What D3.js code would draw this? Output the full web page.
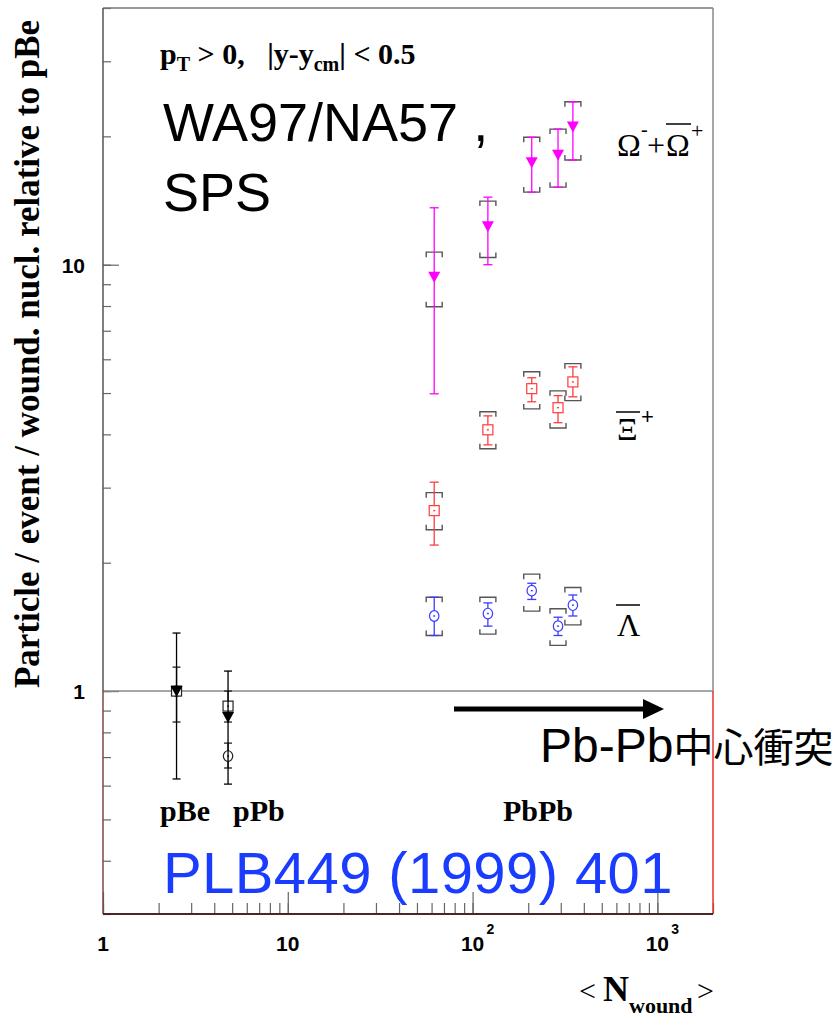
<!DOCTYPE html>
<html><head><meta charset="utf-8">
<script src="https://cdn.jsdelivr.net/npm/d3@7"></script>
<style>body{margin:0;background:#fff} text{white-space:pre}</style>
</head><body><svg id="c" width="839" height="1018"></svg>
<script>
// ---------------- data ----------------
const nWoundPbPb = [62, 121, 209, 290, 349];
const nWoundPA   = [2.5, 4.75];              // pBe, pPb

const omegaVal    = [9.37, 12.3, 17.4, 18.1, 21.1];
const omegaStatHi = [13.6, 14.4, 19.9, 20.8, 24.1];
const omegaStatLo = [4.98, 10.0, 14.8, 15.2, 17.6];
const omegaSysHi  = [10.7, 14.1, 19.9, 20.8, 24.1];
const omegaSysLo  = [7.97, 10.4, 14.8, 15.2, 17.6];

const xiVal    = [2.65, 4.10, 5.12, 4.62, 5.31];
const xiStatHi = [3.09, 4.42, 5.43, 4.93, 5.76];
const xiStatLo = [2.20, 3.78, 4.77, 4.26, 4.90];
const xiSysHi  = [2.92, 4.52, 5.61, 5.06, 5.86];
const xiSysLo  = [2.39, 3.70, 4.59, 4.14, 4.80];

const lamVal    = [1.50, 1.52, 1.72, 1.42, 1.59];
const lamStatHi = [1.66, 1.61, 1.79, 1.49, 1.68];
const lamStatLo = [1.35, 1.42, 1.64, 1.35, 1.50];
const lamSysHi  = [1.66, 1.66, 1.88, 1.56, 1.75];
const lamSysLo  = [1.35, 1.36, 1.54, 1.28, 1.43];

// p-A reference points (pBe, pPb)
const paOmegaVal = [1.0, 0.869], paOmegaHi = [1.368, 1.114], paOmegaLo = [0.622, 0.605];
const paXiVal    = [1.0, 0.922], paXiHi    = [1.138, 1.0],   paXiLo    = [0.846, 0.846];
const paLamVal   = [1.0, 0.704], paLamHi   = [1.02, 0.755],  paLamLo   = [0.98, 0.66];

const xDomain = [1, 2000];
const yDomain = [0.3, 40];
const xMajorTicks = [1, 10, 100, 1000];
const xMajorBase  = ["1", "10", "10", "10"];
const xMajorExp   = ["", "", "2", "3"];
const yMajorTicks = [1, 10];
const yMajorLabels = ["1", "10"];
const refLine = 1;

// ---------------- layout ----------------
const L = 103, R = 713, T = 8, B = 914;
const svg = d3.select("#c");
const x = d3.scaleLog().domain(xDomain).range([L, R]);
const y = d3.scaleLog().domain(yDomain).range([B, T]);

// ticks
const gxMin = svg.append("g").attr("transform", `translate(0,${B})`)
  .call(d3.axisBottom(x).tickValues(x.ticks()).tickSize(-11).tickFormat(""));
const gxMaj = svg.append("g").attr("transform", `translate(0,${B})`)
  .call(d3.axisBottom(x).tickValues(xMajorTicks).tickSize(-22).tickFormat(""));
const gyMin = svg.append("g").attr("transform", `translate(${L},0)`)
  .call(d3.axisLeft(y).tickValues(y.ticks()).tickSize(-8).tickFormat(""));
const gyMaj = svg.append("g").attr("transform", `translate(${L},0)`)
  .call(d3.axisLeft(y).tickValues(yMajorTicks).tickSize(-16).tickFormat(""));
[gxMin, gxMaj, gyMin, gyMaj].forEach(g => {
  g.select(".domain").remove();
  g.selectAll("line").attr("stroke", "#666").attr("stroke-width", 1.2);
});

// reference line at 1
svg.append("line").attr("x1", L).attr("x2", R).attr("y1", y(refLine)).attr("y2", y(refLine))
  .attr("stroke", "#8a8a8a").attr("stroke-width", 1.5);

// frame
const frame = svg.append("g").attr("fill", "none");
frame.append("line").attr("x1", L).attr("x2", R).attr("y1", T).attr("y2", T).attr("stroke", "#777").attr("stroke-width", 1.5);
frame.append("line").attr("x1", L).attr("x2", L).attr("y1", T).attr("y2", y(refLine)).attr("stroke", "#555").attr("stroke-width", 1.5);
frame.append("line").attr("x1", L).attr("x2", L).attr("y1", y(refLine)).attr("y2", B).attr("stroke", "#7a4848").attr("stroke-width", 1.5);
frame.append("line").attr("x1", R).attr("x2", R).attr("y1", T).attr("y2", y(refLine)).attr("stroke", "#888").attr("stroke-width", 1.5);
frame.append("line").attr("x1", R).attr("x2", R).attr("y1", y(refLine)).attr("y2", B).attr("stroke", "#e83030").attr("stroke-width", 1.5);
frame.append("line").attr("x1", L).attr("x2", R).attr("y1", B).attr("y2", B).attr("stroke", "#4a2626").attr("stroke-width", 2);

// tick labels
const xl = svg.append("g").attr("font-family", "Liberation Sans, Arial, sans-serif").attr("fill", "#000").attr("font-weight", "bold");
xMajorTicks.forEach((v, i) => {
  xl.append("text").attr("x", x(v)).attr("y", 951).attr("text-anchor", "middle")
    .attr("font-size", 21).text(xMajorBase[i]);
  if (xMajorExp[i]) xl.append("text").attr("x", x(v) + 14).attr("y", 934)
    .attr("font-size", 14).text(xMajorExp[i]);
});
yMajorTicks.forEach((v, i) => {
  xl.append("text").attr("x", 85).attr("y", y(v) + 8).attr("text-anchor", "end")
    .attr("font-size", 21).text(yMajorLabels[i]);
});

// ---------------- marks ----------------
const plot = svg.append("g");
function bracket(xp, yp, dir) { // dir=+1 top bracket (legs down), -1 bottom (legs up)
  return `M${xp-8},${yp+5*dir} V${yp} H${xp+8} V${yp+5*dir}`;
}
function drawSeries(xs, val, sHi, sLo, yHi, yLo, color, marker, capW) {
  xs.forEach((xv, i) => {
    const px = x(xv);
    if (yHi) {
      plot.append("path").attr("d", bracket(px, y(yHi[i]), 1)).attr("fill", "none").attr("stroke", "#555").attr("stroke-width", 1.4);
      plot.append("path").attr("d", bracket(px, y(yLo[i]), -1)).attr("fill", "none").attr("stroke", "#555").attr("stroke-width", 1.4);
    }
    const st = plot.append("g").attr("stroke", color).attr("stroke-width", 1.3);
    st.append("line").attr("x1", px).attr("x2", px).attr("y1", y(sHi[i])).attr("y2", y(sLo[i]));
    st.append("line").attr("x1", px - capW).attr("x2", px + capW).attr("y1", y(sHi[i])).attr("y2", y(sHi[i]));
    st.append("line").attr("x1", px - capW).attr("x2", px + capW).attr("y1", y(sLo[i])).attr("y2", y(sLo[i]));
    const py = y(val[i]);
    if (marker === "tri") {
      plot.append("path").attr("d", `M${px-6},${py-5} L${px+6},${py-5} L${px},${py+6} Z`).attr("fill", color);
    } else if (marker === "sq") {
      plot.append("rect").attr("x", px - 5).attr("y", py - 5).attr("width", 10).attr("height", 10)
        .attr("fill", "#fff").attr("stroke", color).attr("stroke-width", 1.2);
      plot.append("rect").attr("x", px - 1).attr("y", py - 0.7).attr("width", 2).attr("height", 1.4).attr("fill", color);
    } else {
      plot.append("ellipse").attr("cx", px).attr("cy", py).attr("rx", 4.7).attr("ry", 5.3)
        .attr("fill", "#fff").attr("stroke", color).attr("stroke-width", 1.2);
      plot.append("rect").attr("x", px - 1).attr("y", py - 0.7).attr("width", 2).attr("height", 1.4).attr("fill", color);
    }
  });
}
const cMag = "#ff00ff", cRed = "#ff3c3c", cBlue = "#3c3cff", cBlk = "#222";
drawSeries(nWoundPbPb, omegaVal, omegaStatHi, omegaStatLo, omegaSysHi, omegaSysLo, cMag, "tri", 4.5);
drawSeries(nWoundPbPb, xiVal, xiStatHi, xiStatLo, xiSysHi, xiSysLo, cRed, "sq", 4.5);
drawSeries(nWoundPbPb, lamVal, lamStatHi, lamStatLo, lamSysHi, lamSysLo, cBlue, "circ", 4.5);
drawSeries(nWoundPA, paLamVal, paLamHi, paLamLo, null, null, cBlk, "circ", 4);
drawSeries(nWoundPA, paXiVal, paXiHi, paXiLo, null, null, cBlk, "sq", 4);
drawSeries(nWoundPA, paOmegaVal, paOmegaHi, paOmegaLo, null, null, "#000", "tri", 4);

// ---------------- texts ----------------
const serif = "Liberation Serif, Times New Roman, serif";
const sans = "Liberation Sans, Arial, Helvetica, sans-serif";

// y title
svg.append("text").attr("transform", "translate(39,354) rotate(-90)").attr("text-anchor", "middle")
  .attr("font-family", serif).attr("font-weight", "bold").attr("font-size", 35)
  .text("Particle / event / wound. nucl. relative to pBe");

// x title
const xt = svg.append("g").attr("font-family", serif).attr("font-weight", "bold");
xt.append("text").attr("x", 579).attr("y", 1001).attr("font-size", 30).attr("font-weight", "normal").text("<");
xt.append("text").attr("x", 603).attr("y", 1001).attr("font-size", 36).text("N");
xt.append("text").attr("x", 629).attr("y", 1013).attr("font-size", 22).text("wound");
xt.append("text").attr("x", 697).attr("y", 1001).attr("font-size", 30).attr("font-weight", "normal").text(">");

// kinematic cuts
const kc = svg.append("text").attr("x", 160).attr("y", 64).attr("font-family", serif)
  .attr("font-weight", "bold").attr("font-size", 30);
kc.append("tspan").text("p");
kc.append("tspan").attr("font-size", 20).attr("dy", 7).text("T");
kc.append("tspan").attr("dy", -7).text(" > 0,   |y-y");
kc.append("tspan").attr("font-size", 20).attr("dy", 7).text("cm");
kc.append("tspan").attr("dy", -7).text("| < 0.5");

// experiment
svg.append("text").attr("x", 163).attr("y", 141).attr("font-family", sans).attr("font-size", 54).text("WA97/NA57 ,");
svg.append("text").attr("x", 163).attr("y", 211).attr("font-family", sans).attr("font-size", 54).text("SPS");

// species labels
const sl = svg.append("g").attr("font-family", serif).attr("fill", "#000");
sl.append("text").attr("x", 617).attr("y", 156).attr("font-size", 32).text("Ω");
sl.append("text").attr("x", 641).attr("y", 136).attr("font-size", 20).text("-");
sl.append("text").attr("x", 647).attr("y", 156).attr("font-size", 32).text("+");
sl.append("text").attr("x", 666).attr("y", 156).attr("font-size", 32).text("Ω");
sl.append("line").attr("x1", 666).attr("x2", 691).attr("y1", 124).attr("y2", 124).attr("stroke", "#000").attr("stroke-width", 1.5);
sl.append("text").attr("x", 691).attr("y", 138).attr("font-size", 22).text("+");

sl.append("text").attr("x", 617).attr("y", 440).attr("font-size", 32).text("Ξ");
sl.append("line").attr("x1", 616).attr("x2", 640).attr("y1", 412).attr("y2", 412).attr("stroke", "#000").attr("stroke-width", 1.5);
sl.append("text").attr("x", 641).attr("y", 424).attr("font-family", sans).attr("font-size", 22).text("+");

sl.append("text").attr("x", 617).attr("y", 636).attr("font-size", 32).text("Λ");
sl.append("line").attr("x1", 616).attr("x2", 640).attr("y1", 605).attr("y2", 605).attr("stroke", "#000").attr("stroke-width", 1.5);

// system labels
const sys = svg.append("g").attr("font-family", serif).attr("font-weight", "bold").attr("font-size", 30);
sys.append("text").attr("x", 160).attr("y", 821).text("pBe");
sys.append("text").attr("x", 233).attr("y", 821).text("pPb");
sys.append("text").attr("x", 503).attr("y", 821).text("PbPb");

// reference
svg.append("text").attr("x", 163).attr("y", 893).attr("font-family", sans).attr("font-size", 58)
  .attr("letter-spacing", 0.4).attr("fill", "#1a3cff").text("PLB449 (1999) 401");

// arrow + annotation
svg.append("line").attr("x1", 454).attr("x2", 646).attr("y1", 709).attr("y2", 709).attr("stroke", "#000").attr("stroke-width", 5);
svg.append("path").attr("d", "M643,699 L664,709 L643,719 Z").attr("fill", "#000");
const an = svg.append("text").attr("x", 540).attr("y", 762);
an.append("tspan").attr("font-family", sans).attr("font-size", 48).text("Pb-Pb");
an.append("tspan").attr("font-family", "Noto Sans CJK JP").attr("font-size", 40).text("中心衝突");
</script></body></html>
